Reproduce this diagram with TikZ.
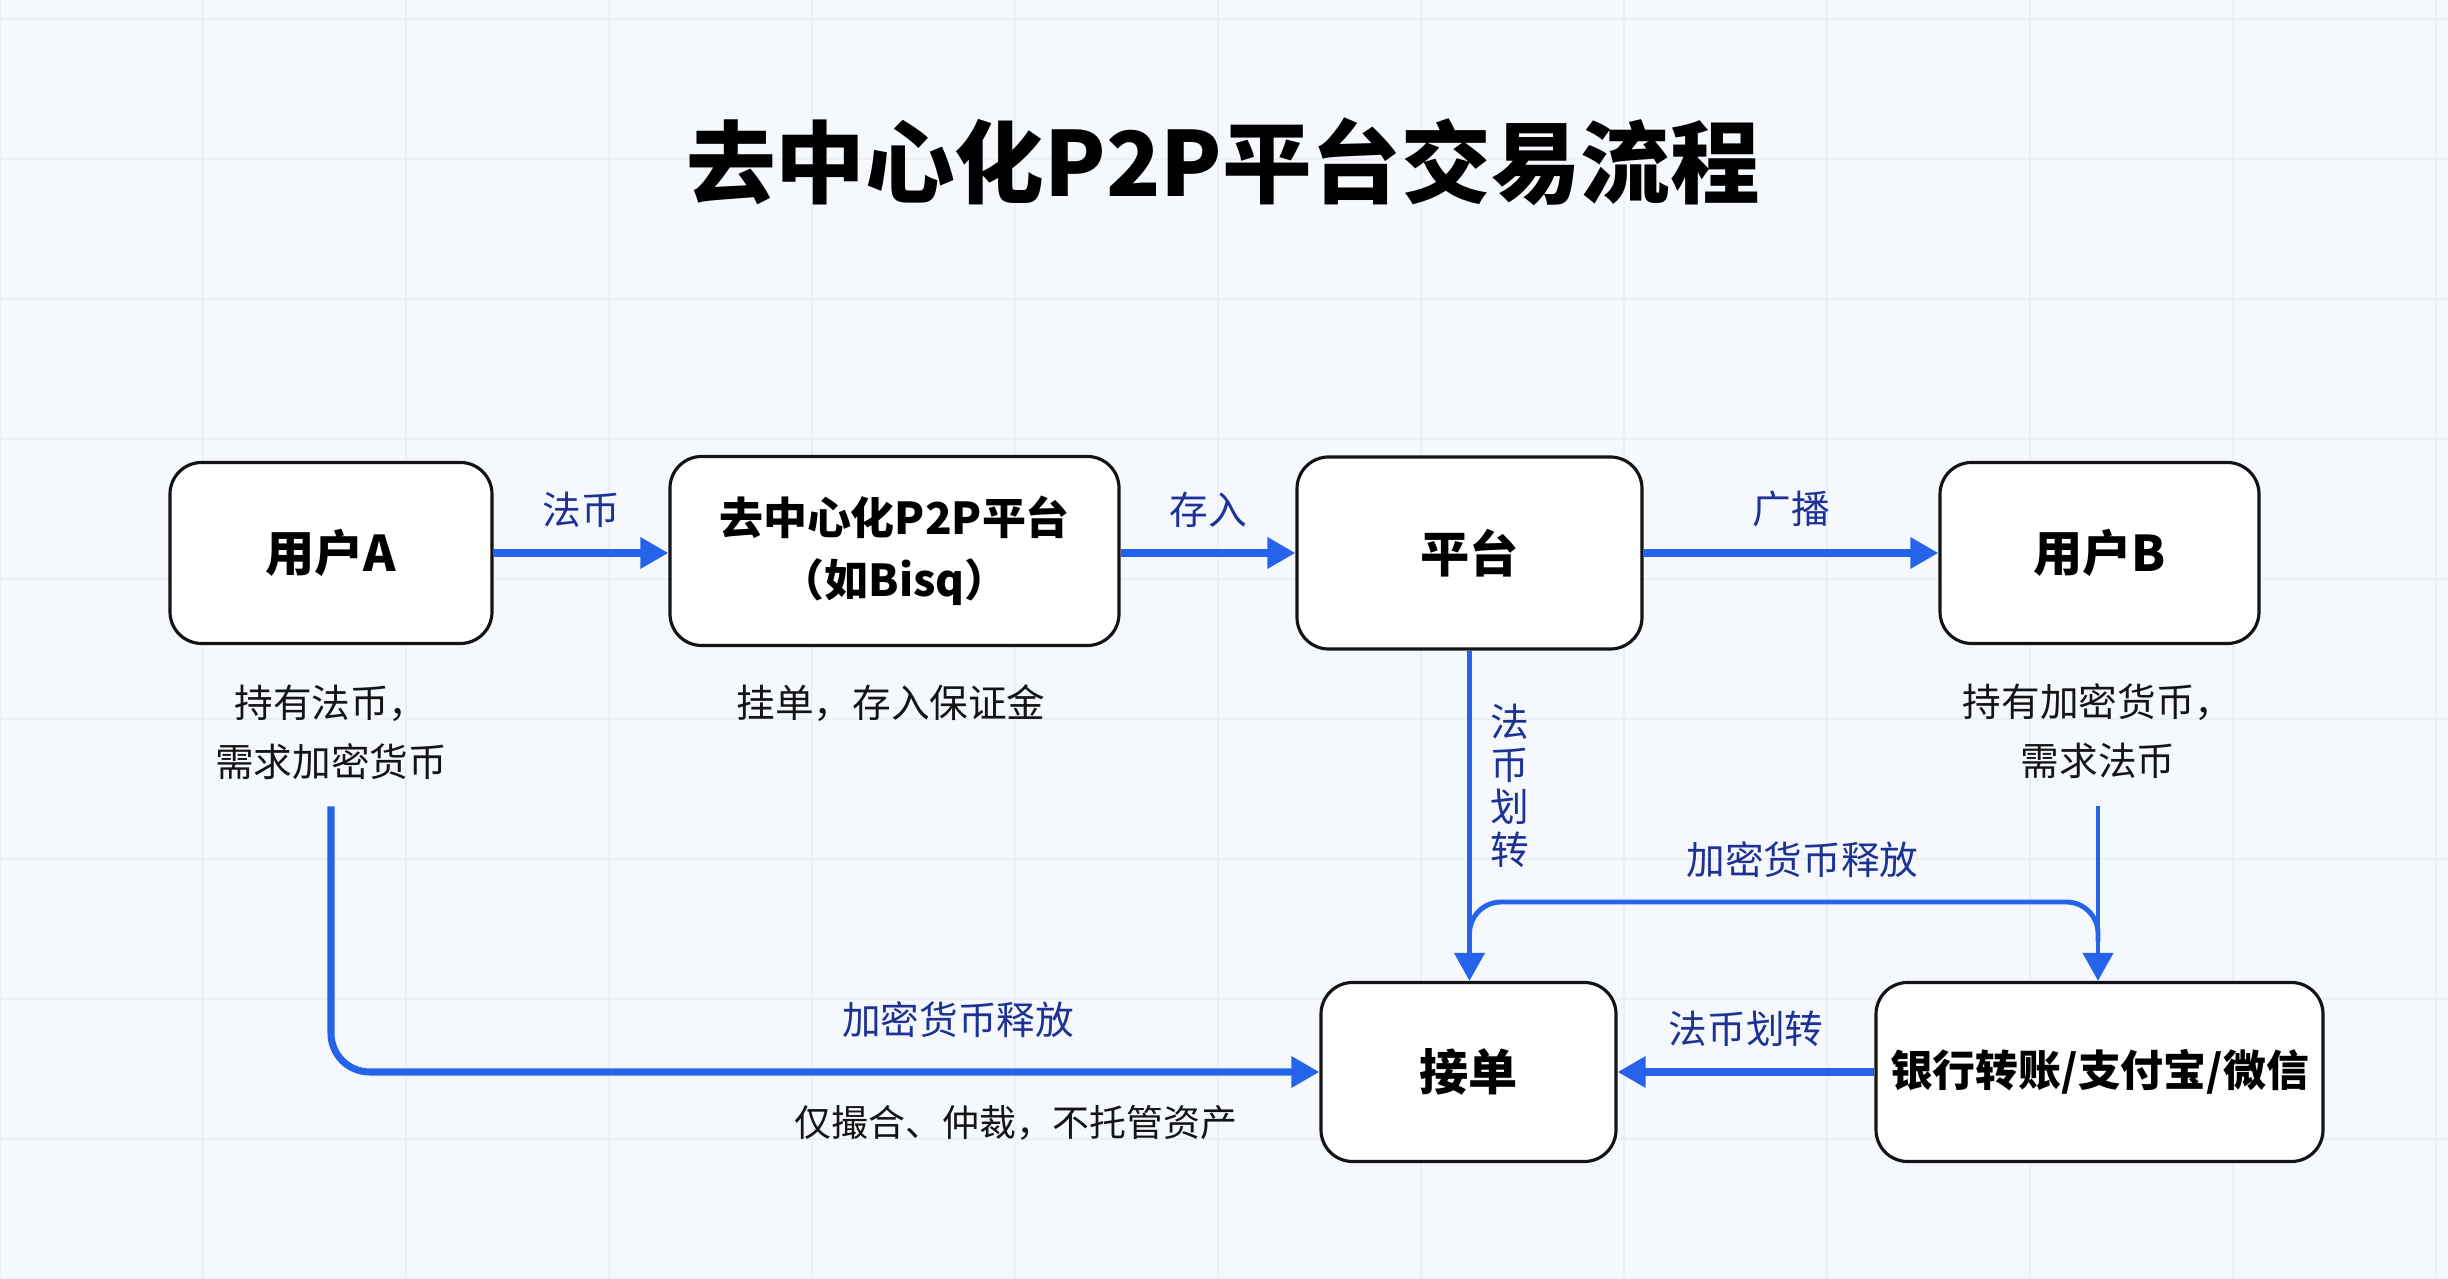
\documentclass[tikz,border=0pt]{standalone}
\usepackage{fontspec}
\setmainfont{Noto Sans CJK SC}
\usepackage{xcolor}
\usepackage{tikz}
\usetikzlibrary{arrows.meta, positioning, calc}
\definecolor{flowblue}{RGB}{37,99,235}
\definecolor{labelnavy}{RGB}{30,50,150}
\definecolor{paperbg}{RGB}{245,248,252}
\definecolor{gridgray}{RGB}{236,240,246}
\definecolor{inkdark}{RGB}{20,20,20}
\tikzset{
  flowbox/.style={rectangle, draw=inkdark, fill=white, line width=0.9pt,
    rounded corners=9pt, align=center, inner sep=0pt,
    font=\fontsize{14}{17}\selectfont\bfseries},
  notetext/.style={align=center, text=inkdark,
    font=\fontsize{11}{16.8}\selectfont},
  flowlabel/.style={text=labelnavy, font=\fontsize{11}{13}\selectfont},
  flowarrow/.style={-{Triangle[length=8pt,width=8.5pt]}, line width=2pt, color=flowblue},
  flowthin/.style={-{Triangle[length=8pt,width=8.5pt]}, line width=1.4pt, color=flowblue},
  flowline/.style={line width=1.4pt, color=flowblue}
}

\begin{document}
\begin{tikzpicture}
  % background and faint grid
  \useasboundingbox (0,0) rectangle (24.48,12.79);
  \fill[paperbg] (0,0) rectangle (24.48,12.79);
  \draw[gridgray, line width=0.5pt, xstep=2.03, ystep=1.4] (0,0) grid (24.48,12.79);
  % title
  \node[font=\fontsize{25.5}{30}\selectfont\bfseries, text=black] (title) at (12.23,11.17) {去中心化P2P平台交易流程};
  % top row
  \node[flowbox, minimum width=3.22cm, minimum height=1.81cm] (userA) at (3.31,7.26) {用户A};
  \node[flowbox, minimum width=4.49cm, minimum height=1.89cm,
        font=\fontsize{12.5}{17.6}\selectfont\bfseries] (p2p) at (8.945,7.28) {去中心化P2P平台\\（如Bisq）};
  \node[flowbox, minimum width=3.45cm, minimum height=1.92cm] (plat) at (14.695,7.26) {平台};
  \node[flowbox, minimum width=3.19cm, minimum height=1.81cm] (userB) at (20.995,7.26) {用户B};
  % bottom row
  \node[flowbox, minimum width=2.95cm, minimum height=1.79cm] (jiedan) at (14.685,2.07) {接单};
  \node[flowbox, minimum width=4.47cm, minimum height=1.79cm,
        font=\fontsize{12.2}{15}\selectfont\bfseries] (bank) at (20.995,2.07) {银行转账/支付宝/微信};
  % notes under boxes
  \node[notetext] (noteA) at (3.31,5.465) {持有法币，\\需求加密货币};
  \node[notetext] (noteP2P) at (8.91,5.76) {挂单，存入保证金};
  \node[notetext] (noteB) at (20.98,5.475) {持有加密货币，\\需求法币};
  \node[notetext, font=\fontsize{10.5}{13}\selectfont] (noteMatch) at (10.16,1.56) {仅撮合、仲裁，不托管资产};
  % top row arrows
  \draw[flowarrow] (userA.east) -- node[flowlabel, above=3pt] (lblFiat) {法币} (userA.east -| p2p.west);
  \draw[flowarrow] (p2p.east |- plat.west) -- node[flowlabel, above=3pt] (lblDeposit) {存入} (plat.west);
  \draw[flowarrow] (plat.east) -- node[flowlabel, above=3pt] (lblBroadcast) {广播} (plat.east -| userB.west);
  % platform down to order taking
  \draw[flowthin] (plat.south) -- node[flowlabel, right=2pt, pos=0.41, align=center,
        font=\fontsize{11}{12.1}\selectfont] (lblTransferV) {法\\币\\划\\转} (plat.south |- jiedan.north);
  % user B down to payment channel
  \draw[flowthin, shorten <=4pt] (noteB.south) -- (noteB.south |- bank.north);
  % crypto release joining both verticals
  \path (plat.south |- 0,3.77) coordinate (relL) (noteB.south |- 0,3.77) coordinate (relR);
  \draw[flowline, rounded corners=9pt] ([yshift=-4mm]relL) -- (relL)
        -- node[flowlabel, above=3pt, pos=0.53] (lblReleaseTop) {加密货币释放} (relR) -- ([yshift=-4mm]relR);
  % user A around to order taking
  \draw[flowarrow, rounded corners=11pt, shorten <=4pt] (noteA.south) |- (jiedan.west);
  \node[flowlabel] (lblReleaseLow) at (9.58,2.59) {加密货币释放};
  % payment channel to order taking
  \draw[flowarrow] (bank.west) -- node[flowlabel, above=3pt] (lblTransferH) {法币划转} (jiedan.east);
\end{tikzpicture}
\end{document}
